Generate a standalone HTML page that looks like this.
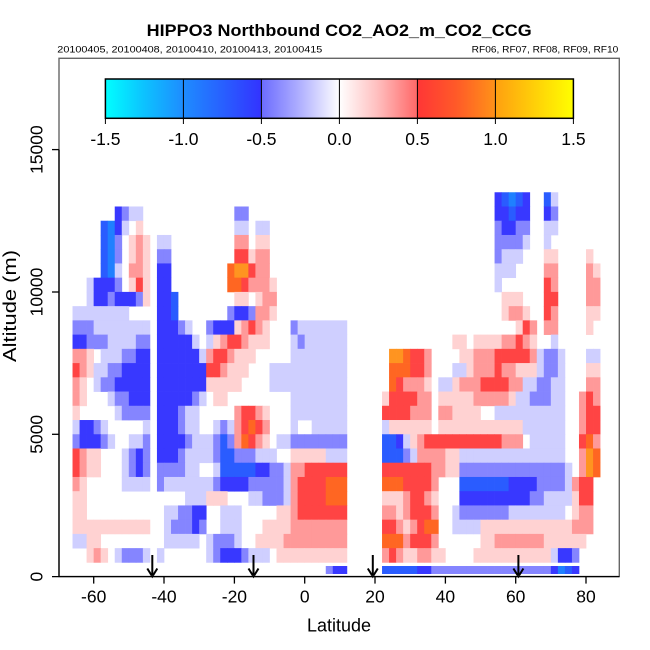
<!DOCTYPE html>
<html><head><meta charset="utf-8">
<style>html,body{margin:0;padding:0;background:#fff;}svg{display:block}</style>
</head>
<body>
<svg id="s" width="650" height="650" viewBox="0 0 650 650" xmlns="http://www.w3.org/2000/svg" font-family="'Liberation Sans', Arial, sans-serif">
<defs>
<linearGradient id="cb" x1="0" x2="1" y1="0" y2="0">
<stop offset="0" stop-color="#00ffff"/>
<stop offset="0.08" stop-color="#0cc4ff"/>
<stop offset="0.1667" stop-color="#1e8cff"/>
<stop offset="0.25" stop-color="#2860ff"/>
<stop offset="0.333" stop-color="#3333ff"/>
<stop offset="0.334" stop-color="#6c6cff"/>
<stop offset="0.42" stop-color="#b4b4ff"/>
<stop offset="0.5" stop-color="#ffffff"/>
<stop offset="0.58" stop-color="#ffc0c0"/>
<stop offset="0.666" stop-color="#ff6868"/>
<stop offset="0.667" stop-color="#ff3636"/>
<stop offset="0.75" stop-color="#ff5a28"/>
<stop offset="0.833" stop-color="#ff9218"/>
<stop offset="0.834" stop-color="#ffa010"/>
<stop offset="1" stop-color="#ffff00"/>
</linearGradient>
</defs>
<rect width="650" height="650" fill="#fff"/>
<g id="heat"></g>

<!-- arrows -->
<g stroke="#000" stroke-width="2" fill="none">
<line x1="152.3" y1="555" x2="152.3" y2="576"/><polyline points="147.3,568.5 152.3,576.5 157.3,568.5"/>
<line x1="253.5" y1="555" x2="253.5" y2="576"/><polyline points="248.5,568.5 253.5,576.5 258.5,568.5"/>
<line x1="372.8" y1="555" x2="372.8" y2="576"/><polyline points="367.8,568.5 372.8,576.5 377.8,568.5"/>
<line x1="518.4" y1="555" x2="518.4" y2="576"/><polyline points="513.4,568.5 518.4,576.5 523.4,568.5"/>
</g>

<!-- box -->
<rect x="59" y="58.3" width="560.3" height="518.2" fill="none" stroke="#666" stroke-width="1.4"/>
<!-- axes -->
<g stroke="#000" stroke-width="1.3">
<line x1="52" y1="576.6" x2="619.3" y2="576.6"/>
<line x1="59" y1="149.6" x2="59" y2="576.6"/>
<line x1="52" y1="149.6" x2="59" y2="149.6"/>
<line x1="52" y1="292" x2="59" y2="292"/>
<line x1="52" y1="434.3" x2="59" y2="434.3"/>
<line x1="93.7" y1="576.6" x2="93.7" y2="583.6"/>
<line x1="164" y1="576.6" x2="164" y2="583.6"/>
<line x1="234.4" y1="576.6" x2="234.4" y2="583.6"/>
<line x1="304.7" y1="576.6" x2="304.7" y2="583.6"/>
<line x1="375" y1="576.6" x2="375" y2="583.6"/>
<line x1="445.4" y1="576.6" x2="445.4" y2="583.6"/>
<line x1="515.7" y1="576.6" x2="515.7" y2="583.6"/>
<line x1="586" y1="576.6" x2="586" y2="583.6"/>
</g>
<g font-size="17.5" text-anchor="middle" fill="#000">
<text x="93.7" y="602.5">-60</text>
<text x="164" y="602.5">-40</text>
<text x="234.4" y="602.5">-20</text>
<text x="304.7" y="602.5">0</text>
<text x="375" y="602.5">20</text>
<text x="445.4" y="602.5">40</text>
<text x="515.7" y="602.5">60</text>
<text x="586" y="602.5">80</text>
<text transform="translate(42.7,576.6) rotate(-90)">0</text>
<text transform="translate(42.7,434.3) rotate(-90)">5000</text>
<text transform="translate(42.7,292) rotate(-90)">10000</text>
<text transform="translate(42.7,149.6) rotate(-90)">15000</text>
</g>
<text x="339" y="631.5" font-size="18" text-anchor="middle" textLength="64" lengthAdjust="spacingAndGlyphs">Latitude</text>
<text transform="translate(16,306) rotate(-90)" font-size="18" text-anchor="middle" textLength="112" lengthAdjust="spacingAndGlyphs">Altitude (m)</text>

<!-- colorbar -->
<rect x="105.4" y="79" width="468" height="39.3" fill="url(#cb)" stroke="#000" stroke-width="1.5"/>
<g stroke="#000" stroke-width="1">
<line x1="183.4" y1="79" x2="183.4" y2="118.3"/>
<line x1="261.4" y1="79" x2="261.4" y2="118.3"/>
<line x1="339.4" y1="79" x2="339.4" y2="118.3"/>
<line x1="417.4" y1="79" x2="417.4" y2="118.3"/>
<line x1="495.4" y1="79" x2="495.4" y2="118.3"/>
<line x1="105.4" y1="118.3" x2="105.4" y2="124"/>
<line x1="183.4" y1="118.3" x2="183.4" y2="124"/>
<line x1="261.4" y1="118.3" x2="261.4" y2="124"/>
<line x1="339.4" y1="118.3" x2="339.4" y2="124"/>
<line x1="417.4" y1="118.3" x2="417.4" y2="124"/>
<line x1="495.4" y1="118.3" x2="495.4" y2="124"/>
<line x1="573.4" y1="118.3" x2="573.4" y2="124"/>
</g>
<g font-size="17.5" text-anchor="middle" fill="#000">
<text x="105.4" y="145">-1.5</text>
<text x="183.4" y="145">-1.0</text>
<text x="261.4" y="145">-0.5</text>
<text x="339.4" y="145">0.0</text>
<text x="417.4" y="145">0.5</text>
<text x="495.4" y="145">1.0</text>
<text x="573.4" y="145">1.5</text>
</g>

<!-- titles -->
<text x="146.7" y="36" font-size="17" font-weight="bold" textLength="385" lengthAdjust="spacingAndGlyphs">HIPPO3 Northbound CO2_AO2_m_CO2_CCG</text>
<text x="57.3" y="52.3" font-size="9.5" textLength="265" lengthAdjust="spacingAndGlyphs">20100405, 20100408, 20100410, 20100413, 20100415</text>
<text x="471.7" y="52.3" font-size="9.5" textLength="146.6" lengthAdjust="spacingAndGlyphs">RF06, RF07, RF08, RF09, RF10</text>
</svg>
<script>
(function(){
var R=[
".......... .......... .......... .......... .......... .......... .nbBbn..bl ......",
".......nml l......... ....mm.... .......... .......... .......... .nnbnn..nm ......",
".....bBnl. p......... ....ll.ll. .......... .......... .......... .mnnmm..ll ......",
".....bBm.p qp.ll..... ....qq.pp. .......... .......... .......... .mmmml..l. ......",
".....bBm.p qp.mm..... ....rrpqq. .......... .......... .......... .mlll...pp ....p.",
".....bBl.q qp.nn..... ...oOOrqq. .......... .......... .......... .lll....qq ....qp",
"...lnnnm.p rp.nn..... ...oorqqqp .......... .......... .......... .l......rq ....qq",
"...lnnmnnn mp.nnb.... ....pp.pqq .......... .......... .......... ..ppp...rr ....qq",
".llllllll. ...nnb.... ...mnnmqqp .......... .......... .......... ..pqqp..rq ....pp",
".mmmllllll ll.nnnml.. mnnnpqrqp. ..mlllllll .......... .......... ....prq.qq ....p.",
".nnmmmllll mm.nnnnnl. lpqrrqppp. ..lmllllll .......... .....pp.pp ppqqrqp..l ......",
".qqp.lllmm nn.nnnnnnl qrrqppp... ..llllllll ......OOor rq....ppqq qrrrrrqlmm l...ll",
".rqpllmmnn nn.nnnnnnn rrqppp...l llllllllll ......ooor rq...llpqq qrqqppplmm l...pp",
".qp.lmmnnn nn.nnnnnnn ppppp....l llllllllll ......orqq qp.llpqqqr rrrqqllmml l...qq",
".qp...lmmn nn.nnnnnml .pp....... ..llllllll .....prrrr qq.pppppqq qqqpllmmml l..qrq",
".p.....lmm mm.nnnmll. ....qrrqp. ..llllllll .....rrrrq qq.qqpppp. .lllllllll l..qrr",
".lnnml.... .l.nnnmll. .lmlqrorq. ..l..lllll .....lpppp pp.ppppppp ppppplllll l..qrr",
".mnnnml..l lm.nnnnmll lmbmqorqp. llmmmmmmmm .....bbnlp qrrrrrrrrr rrqqq.llll l..roq",
".rqpp...lm nm.nnnmlll lmbbmmmlll ..ppppplll .....bbbml qqqqppllll llllllllll l..qOo",
".rqpp...lm nm.mmmmll. .lbbbbbnnm mlqqrrrrrr .....rrrrr rrqqppmmmm mmmmmmmmmm ml.qOo",
".qp.....ll ll.mllllll lmnnnnmmmm mlqrrrrooo .....ooorr rrq...bbbb bbbnnnnmmm mlqrr.",
".pp....... .......lll ppp...llmm mlqrrrrooo .....pppqr rqp...nnnn nnnnnnmmll llprr.",
".pp....... ....llmmnn ..lll..... ppqrrrrrrr .....qqpqr rrq..lmmmm mmmlllllll l.pqq.",
".ppppppppp pp..lmmmnm ..lll...pp ppqqqqqqqq .....rrqpq roo..llllp pppppppppp ppqqq.",
".llpp..... ....lllll. lmmml..ppp pqqqqqqqqq .....oooqr rrq......p pqqqqqqqpp pppp..",
"...pqp.lmm ml.l...... lmnnnmlll. pppppppppp .....qrqpp qqpp....pp pppppppppl nnm...",
".......... .......... .......... .......mnn .....bbbbb nnmmmmmmmm mmmmmmmmmn Bbn..."
];
var C={B:'#1f80ff',b:'#2a5cff',n:'#3838ff',m:'#8585ff',l:'#cfcfff',p:'#ffd2d2',q:'#ff9999',r:'#ff4444',o:'#ff6622',O:'#ff9420'};
var NS='http://www.w3.org/2000/svg';
var g=document.getElementById('heat');
for(var i=0;i<R.length;i++){
  var k=26-i; var s=R[i].replace(/ /g,'');
  for(var j=0;j<s.length;j++){
    var c=s.charAt(j); if(!C[c]) continue;
    var x=65.5+7.034*j, y, h;
    if(k===0){y=566;h=8;}else{y=576.6-14.235*(k+1);h=14.6;}
    var r=document.createElementNS(NS,'rect');
    r.setAttribute('x',x.toFixed(2)); r.setAttribute('y',y.toFixed(2));
    r.setAttribute('width','7.4'); r.setAttribute('height',String(h));
    r.setAttribute('fill',C[c]); g.appendChild(r);
  }
}
})();
</script>
</body></html>
